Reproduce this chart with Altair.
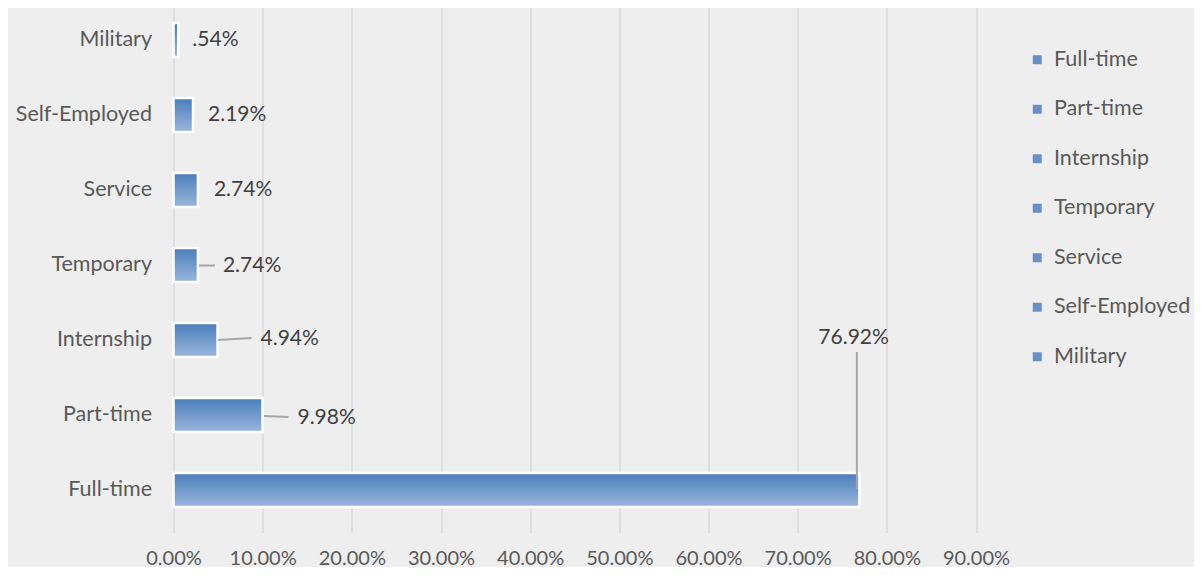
import altair as alt
import pandas as pd

# ---- data ----
categories = ["Military", "Self-Employed", "Service", "Temporary", "Internship", "Part-time", "Full-time"]
values = [0.54, 2.19, 2.74, 2.74, 4.94, 9.98, 76.92]
legend_order = ["Full-time", "Part-time", "Internship", "Temporary", "Service", "Self-Employed", "Military"]
tick_values = [0, 10, 20, 30, 40, 50, 60, 70, 80, 90]

# ---- label layout (pixel offsets from bar end, styling only) ----
label_dx = [14, 15, 16, 25, 43, 35, -41]
label_dy = [0, 0, 0, 1, -1, 2.5, -152]
leader_cats = ["Temporary", "Internship", "Part-time", "Full-time"]
leader_x1 = [1, 0.5, 1.5, -2.5]
leader_x2 = [17, 34, 26, -2.5]
leader_y1 = [0.5, 0, 1, -138]
leader_y2 = [0.5, -2, 2, -1]

FONT = "Lato"
TEXT_COLOR = "#595959"

def fmt(v):
    s = f"{v:.2f}%"
    return s[1:] if s.startswith("0.") else s

df = pd.DataFrame({
    "cat": categories,
    "value": values,
    "label": [fmt(v) for v in values],
    "ldx": label_dx,
    "ldy": label_dy,
})
val_of = dict(zip(categories, values))
df_lead = pd.DataFrame({
    "cat": leader_cats,
    "value": [val_of[c] for c in leader_cats],
    "x1": leader_x1, "x2": leader_x2, "y1": leader_y1, "y2": leader_y2,
})

x_scale = alt.Scale(domain=[0, 90], nice=False)
y_scale = alt.Scale(domain=categories, range=[-5.5, 519.5], paddingInner=0.5, paddingOuter=0.25)

x_enc = alt.X("value:Q", scale=x_scale, axis=alt.Axis(
    values=tick_values, labelExpr="format(datum.value / 100, '.2%')", title=None,
    grid=True, gridColor="#d9d9d9", gridWidth=1.5, domain=False, ticks=False,
    labelFont=FONT, labelFontSize=20, labelColor=TEXT_COLOR, labelPadding=31,
    labelBaseline="middle", labelOverlap=False, labelFlush=False,
))
y_enc = alt.Y("cat:N", scale=y_scale, axis=alt.Axis(
    title=None, domain=False, ticks=False, grid=False,
    labelFont=FONT, labelFontSize=21.5, labelColor=TEXT_COLOR, labelPadding=22,
))

gradient = alt.Gradient(
    gradient="linear",
    stops=[alt.GradientStop(color="#4a7dbb", offset=0), alt.GradientStop(color="#9ab7dc", offset=1)],
    x1=0, x2=0, y1=0, y2=1,
)

base = alt.Chart(df)

bars = base.mark_bar(fill=gradient, stroke="white", strokeWidth=2.5, size=34).encode(
    x=x_enc, y=y_enc
)

legend_layer = base.mark_square(opacity=0).encode(
    x=alt.X("value:Q", scale=x_scale),
    y=alt.Y("cat:N", scale=y_scale),
    color=alt.Color("cat:N", scale=alt.Scale(domain=legend_order, range=["#6890c8"] * 7),
                    legend=alt.Legend(
                        title=None, orient="none", legendX=853, legendY=41,
                        symbolType="square", symbolSize=81, symbolOpacity=1, symbolStrokeWidth=0,
                        labelFont=FONT, labelFontSize=21.5, labelColor=TEXT_COLOR,
                        labelOffset=6, rowPadding=26.5, padding=0,
                    )),
)

leaders = alt.Chart(df_lead).mark_rule(
    color="#a6a6a6", strokeWidth=2,
    xOffset=alt.ExprRef("datum.x1"), x2Offset=alt.ExprRef("datum.x2"),
    yOffset=alt.ExprRef("datum.y1"), y2Offset=alt.ExprRef("datum.y2"),
).encode(
    x=alt.X("value:Q", scale=x_scale), x2="value:Q",
    y=alt.Y("cat:N", scale=y_scale), y2="cat:N",
)

labels = base.mark_text(
    align="left", baseline="middle", font=FONT, fontSize=21, color="#404040",
    dx=alt.ExprRef("datum.ldx"), dy=alt.ExprRef("datum.ldy"),
).encode(
    x=alt.X("value:Q", scale=x_scale),
    y=alt.Y("cat:N", scale=y_scale),
    text="label:N",
)

chart = alt.layer(bars, leaders, labels, legend_layer).properties(
    width=802.5, height=519,
    autosize=alt.AutoSizeParams(type="none"),
    padding={"left": 165.5, "top": 0, "right": 218, "bottom": 40},
).configure(background="#eeeeee").configure_view(stroke=None)

chart.save("out.html", embed_options={"renderer": "svg", "actions": False})
